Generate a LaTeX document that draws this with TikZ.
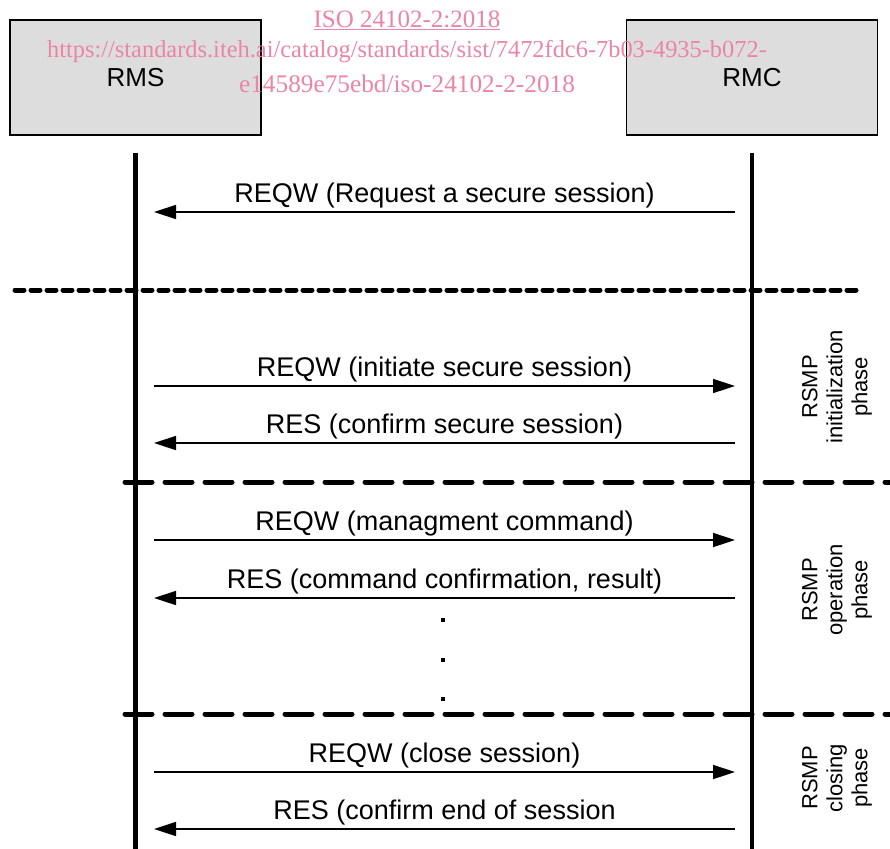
\documentclass[tikz,border=0pt]{standalone}
\usepackage{fontspec}
\setmainfont{Liberation Sans}
\newfontfamily\wmfont{Liberation Serif}
\usetikzlibrary{arrows.meta,positioning}
\definecolor{boxgray}{RGB}{221,221,221}
\definecolor{wmpink}{RGB}{236,133,164}

\begin{document}
\begin{tikzpicture}[x=1pt,y=-1pt,
  box/.style={rectangle,draw,line width=1.5pt,fill=boxgray,minimum width=251pt,minimum height=115pt,font=\fontsize{26}{30}\selectfont},
  life/.style={line width=4.5pt},
  msg/.style={line width=1.5pt,-{Triangle[length=22pt,width=14pt]}},
  lbl/.style={anchor=base,yshift=10pt,font=\fontsize{27}{32}\selectfont},
  dotline/.style={line width=5pt,line cap=round,dash pattern=on 9pt off 7pt},
  dashline/.style={line width=5pt,line cap=round,dash pattern=on 27pt off 13pt},
  phase/.style={rotate=90,align=center,font=\fontsize{22}{25}\selectfont},
  dot/.style={rectangle,fill,inner sep=0,minimum size=4pt},
  wm/.style={text=wmpink,font=\wmfont\fontsize{25}{30}\selectfont,inner sep=0}]

\useasboundingbox (0,0) rectangle (890,848);

% Nodes
\node[box] (rms) at (135.5,77.5) {RMS};
\node[box] (rmc) at (752,77.5) {RMC};

\coordinate (bot) at (0,850);

\foreach \y/\m in {212/m1,386/m2,443/m3,540/m4,598/m5,772/m6,829/m7}{
  \coordinate (\m l) at (154,\y);
  \coordinate (\m r) at (735,\y);
}

\coordinate (sepa) at (15,290);
\coordinate (sepb) at (860,290);
\coordinate (sepc) at (125,482);
\coordinate (sepd) at (895,482);
\coordinate (sepe) at (125,714);
\coordinate (sepf) at (895,714);

\node[dot] (dot1) at (443,620) {};
\node[dot] (dot2) at (443,660) {};
\node[dot] (dot3) at (443,699) {};

\node[phase] (init) at (837,387) {RSMP\\initialization\\phase};
\node[phase] (oper) at (837,590) {RSMP\\operation\\phase};
\node[phase] (clos) at (837,778) {RSMP\\closing\\phase};

\node[wm] (wm1) at (407,20) {\underline{ISO 24102-2:2018}};
\node[wm,font=\wmfont\fontsize{24.4}{30}\selectfont] (wm2) at (407,52) {https://standards.iteh.ai/catalog/standards/sist/7472fdc6-7b03-4935-b072-};
\node[wm,font=\wmfont\fontsize{25.3}{30}\selectfont] (wm3) at (407,84) {e14589e75ebd/iso-24102-2-2018};

%lifelines
\draw[life] ([yshift=-17pt]rms.south) -- (rms.south |- bot);
\draw[life] ([yshift=-17pt]rmc.south) -- (rmc.south |- bot);

%separators
\draw[dotline] (sepa) -- (sepb);
\draw[dashline] (sepc) -- (sepd);
\draw[dashline] (sepe) -- (sepf);

%arcs
\path (m1r) edge[msg] node[lbl] {REQW (Request a secure session)} (m1l);
\path (m2l) edge[msg] node[lbl] {REQW (initiate secure session)} (m2r);
\path (m3r) edge[msg] node[lbl] {RES (confirm secure session)} (m3l);
\path (m4l) edge[msg] node[lbl] {REQW (managment command)} (m4r);
\path (m5r) edge[msg] node[lbl] {RES (command confirmation, result)} (m5l);
\path (m6l) edge[msg] node[lbl] {REQW (close session)} (m6r);
\path (m7r) edge[msg] node[lbl] {RES (confirm end of session} (m7l);

\end{tikzpicture}
\end{document}
